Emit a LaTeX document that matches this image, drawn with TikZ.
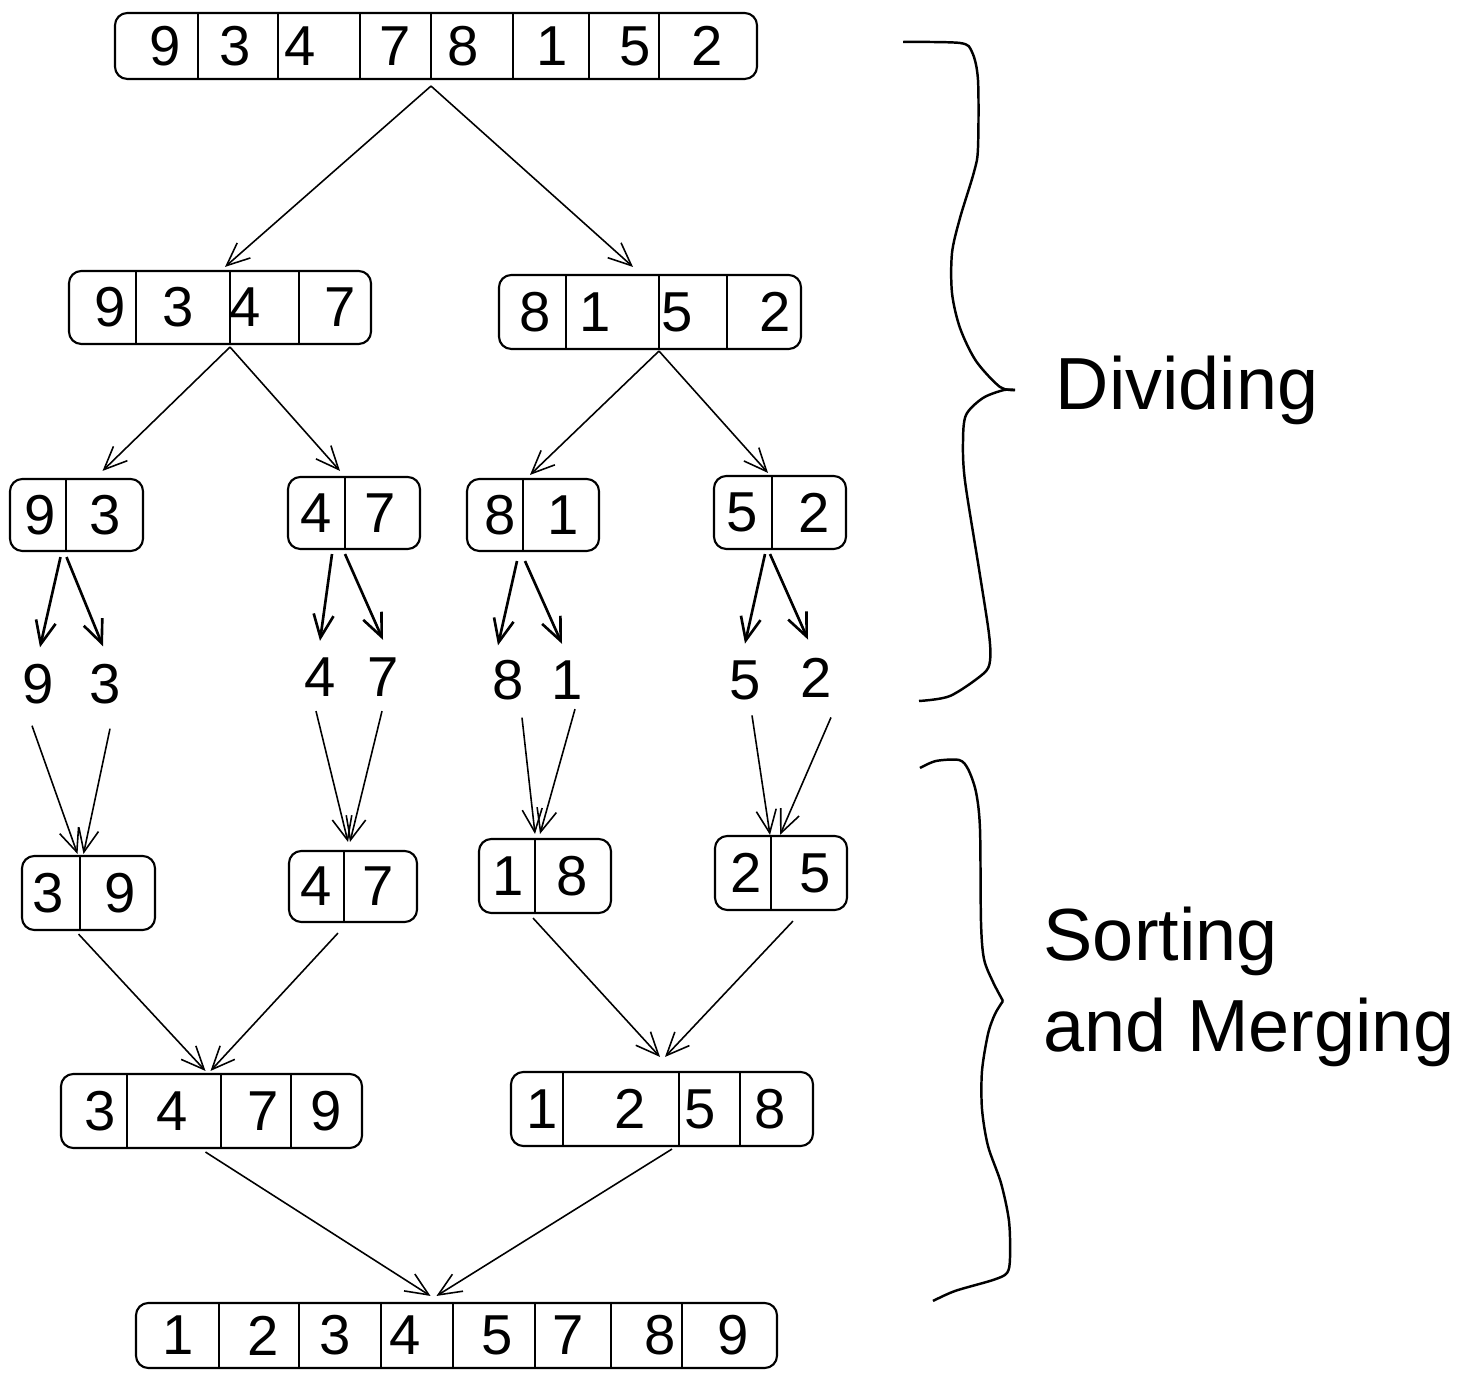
\documentclass[tikz,border=0pt]{standalone}
\usepackage{fontspec}
\setmainfont{Liberation Sans}
\usetikzlibrary{arrows.meta,calc,fit}

\begin{document}
\begin{tikzpicture}[x=0.01cm, y=-0.01cm,
    cell/.style={draw, line width=0.6pt, rounded corners=3.5pt, inner sep=0pt},
    divider/.style={line width=0.5pt},
    digit/.style={font=\fontsize{16}{18}\selectfont, inner sep=4pt},
    splitarrow/.style={line width=0.75pt, -{Straight Barb[length=2.3mm, width=2mm]}},
    thinarrow/.style={line width=0.45pt, -{Straight Barb[length=2.3mm, width=2mm]}},
    phase/.style={font=\fontsize{21}{26}\selectfont, inner sep=0pt, align=left}]
    \def\feld#1#2#3#4#5#6#7{
    \node[cell, fit={(#2,#3) (#4,#5)}] (#1) {};
    \foreach \d in {#6} \draw[divider] (\d,#3) -- (\d,#5);
    \foreach \x/\v in {#7} \node[digit] (#1-\v) at (\x,{(#3+#5)/2}) {\v};
    }

    \useasboundingbox (0,0) rectangle (1475,1383);

    % dividing
    \feld{top}{115}{13}{757}{79}{198,278,360,431,513,589,659}{165/9,235/3,300/4,395/7,463/8,552/1,635/5,707/2}
    \feld{l}{69}{271}{371}{344}{136,230,299}{110/9,178/3,245/4,340/7}
    \feld{r}{499}{275}{801}{349}{566,659,727}{535/8,595/1,677/5,775/2}
    \feld{a}{10}{479}{143}{551}{66}{40/9,105/3}
    \feld{b}{288}{477}{420}{549}{345}{316/4,380/7}
    \feld{c}{467}{479}{599}{551}{523}{500/8,563/1}
    \feld{d}{714}{476}{846}{549}{772}{742/5,814/2}

    \node[digit] (s9) at (38,684) {9};
    \node[digit] (s3) at (105,684) {3};
    \node[digit] (s4) at (320,677) {4};
    \node[digit] (s7) at (383,677) {7};
    \node[digit] (s8) at (508,680) {8};
    \node[digit] (s1) at (567,680) {1};
    \node[digit] (s5) at (745,680) {5};
    \node[digit] (s2) at (816,678) {2};

    % sorting and merging
    \feld{sa}{22}{856}{155}{930}{80}{48/3,120/9}
    \feld{sb}{289}{851}{417}{922}{344}{316/4,378/7}
    \feld{sc}{479}{839}{611}{913}{535}{508/1,572/8}
    \feld{sd}{715}{836}{847}{910}{771}{746/2,815/5}
    \feld{ml}{61}{1074}{362}{1148}{127,221,291}{100/3,172/4,263/7,326/9}
    \feld{mr}{511}{1072}{813}{1146}{563,679,740}{542/1,630/2,700/5,770/8}
    \feld{bottom}{136}{1303}{777}{1368}{219,299,381,453,535,611,682}{178/1,263/2,335/3,405/4,497/5,568/7,660/8,733/9}

    \draw[thinarrow] ($(top.south)+(-5,6)$) -- ($(l.north)+(5,-3)$);
    \draw[thinarrow] ($(top.south)+(-5,6)$) -- ($(r.north)+(-17,-7)$);
    \draw[thinarrow] ($(l.south)+(10,2)$) -- ($(a.north)+(26,-7)$);
    \draw[thinarrow] ($(l.south)+(10,2)$) -- ($(b.north)+(-14,-5)$);
    \draw[thinarrow] ($(r.south)+(9,1)$) -- ($(c.north)+(-3,-3)$);
    \draw[thinarrow] ($(r.south)+(9,1)$) -- ($(d.north)+(-12,-2)$);

    \draw[splitarrow] ($(a.south)+(-16,5)$) -- ($(s9.north)+(2,-2)$);
    \draw[splitarrow] ($(a.south)+(-10,5)$) -- ($(s3.north)+(-2,-3)$);
    \draw[splitarrow] ($(b.south)+(-22,4)$) -- ($(s4.north)+(0,-2)$);
    \draw[splitarrow] ($(b.south)+(-9,4)$) -- ($(s7.north)+(0,-3)$);
    \draw[splitarrow] ($(c.south)+(-16,9)$) -- ($(s8.north)+(-10,0)$);
    \draw[splitarrow] ($(c.south)+(-8,9)$) -- ($(s1.north)+(-5,-2)$);
    \draw[splitarrow] ($(d.south)+(-15,4)$) -- ($(s5.north)+(0,-2)$);
    \draw[splitarrow] ($(d.south)+(-10,4)$) -- ($(s2.north)+(-8,-4)$);

    \draw[thinarrow] ($(s9.south)+(-6,7)$) -- ($(sa.north)+(-11,-1)$);
    \draw[thinarrow] ($(s3.south)+(5,10)$) -- ($(sa.north)+(-5,-1)$);
    \draw[thinarrow] ($(s4.south)+(-4,0)$) -- ($(sb.north)+(-5,-8)$);
    \draw[thinarrow] ($(s7.south)+(-1,0)$) -- ($(sb.north)+(-3,-8)$);
    \draw[thinarrow] ($(s8.south)+(14,3)$) -- ($(sc.north)+(-10,-4)$);
    \draw[thinarrow] ($(s1.south)+(8,-5)$) -- ($(sc.north)+(-5,-4)$);
    \draw[thinarrow] ($(s5.south)+(7,1)$) -- ($(sd.north)+(-11,0)$);
    \draw[thinarrow] ($(s2.south)+(15,5)$) -- ($(sd.north)+(-1,0)$);

    \draw[thinarrow] ($(sa.south)+(-10,3)$) -- ($(ml.north)+(-6,-2)$);
    \draw[thinarrow] ($(sb.south)+(-15,10)$) -- ($(ml.north)+(-1,-2)$);
    \draw[thinarrow] ($(sc.south)+(-12,4)$) -- ($(mr.north)+(-2,-14)$);
    \draw[thinarrow] ($(sd.south)+(12,10)$) -- ($(mr.north)+(3,-14)$);
    \draw[thinarrow] ($(ml.south)+(-6,3)$) -- ($(bottom.north)+(-26,-6)$);
    \draw[thinarrow] ($(mr.south)+(10,2)$) -- ($(bottom.north)+(-20,-6)$);

    % braces
    \draw[line width=0.7pt] plot [smooth, tension=0.5] coordinates {(903,42) (960,43) (972,52) (978,80) (978,148) (974,172) (960,218) (952,253) (952,293) (960,328) (976,361) (1000,387) (1015,390)};
    \draw[line width=0.7pt] plot [smooth, tension=0.5] coordinates {(1015,390) (1004,390) (983,398) (966,415) (963,442) (965,481) (979,569) (989,634) (990,661) (983,674) (950,696) (919,701)};
    \node[phase, anchor=base west] (dividing) at (1055,410) {Dividing};

    \draw[line width=0.7pt] plot [smooth, tension=0.5] coordinates {(920,768) (936,761) (959,760) (968,769) (976,792) (980,829) (981,922) (984,959) (993,982) (1003,1001)};
    \draw[line width=0.7pt] plot [smooth, tension=0.5] coordinates {(1003,1001) (995,1014) (988,1034) (982,1071) (982,1109) (988,1146) (1001,1183) (1009,1221) (1010,1258) (1007,1273) (993,1280) (955,1291) (933,1301)};
    \node[phase, anchor=west] (merging) at (1043,987) {Sorting\\and Merging};
\end{tikzpicture}
\end{document}
